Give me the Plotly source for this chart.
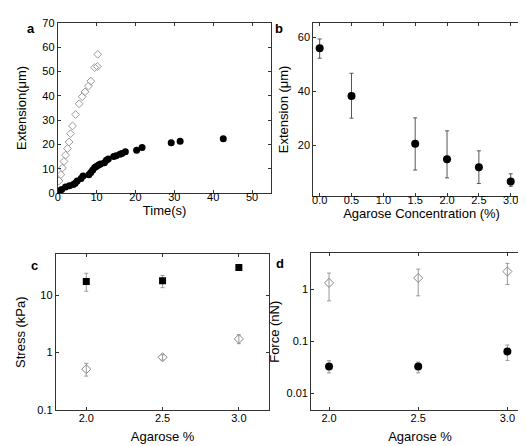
import plotly.graph_objects as go

# panel a: extension vs time
t_open = [0.3, 0.8, 1.2, 1.6, 2.0, 2.5, 2.9, 3.3, 3.8, 4.6, 5.5, 6.3, 7.0, 7.9, 8.5, 9.5, 10.2, 10.3]
ext_open = [5, 7.6, 10.3, 13, 15.6, 18.3, 21, 24.4, 27.6, 32.3, 36.7, 39.6, 41.6, 44, 46, 51.6, 52, 57]
t_fill = [0.5, 1.0, 2.0, 3.0, 4.0, 4.5, 5.0, 6.0, 6.5, 8.0, 8.5, 9.0, 9.5, 10.0, 10.5, 11.0,
          12.0, 12.5, 13.0, 14.4, 15.0, 16.0, 16.5, 17.4, 20.3, 21.7, 29.2, 31.5, 42.6]
ext_fill = [1.0, 1.5, 2.5, 3.0, 3.5, 4.0, 5.0, 6.0, 7.0, 7.5, 8.5, 9.5, 10.5, 11.0, 11.5, 12.0,
            12.5, 13.5, 14.0, 15.0, 15.3, 16.0, 16.3, 17.0, 17.6, 18.7, 20.7, 21.3, 22.3]

# panel b: extension vs agarose concentration
conc = [0.0, 0.5, 1.5, 2.0, 2.5, 3.0]
ext_mean = [56.0, 38.3, 20.6, 14.9, 11.9, 6.7]
ext_hi = [59.4, 46.7, 30.2, 25.4, 18.0, 9.5]
ext_lo = [52.3, 30.1, 10.9, 8.0, 5.9, 4.9]

# panels c, d
agarose = [2.0, 2.5, 3.0]
stress_fill = [17.3, 17.8, 30.3]
stress_fill_hi = [24, 22, 33]
stress_fill_lo = [11.7, 13.5, 28]
stress_open = [0.515, 0.83, 1.73]
stress_open_hi = [0.65, 0.92, 2.05]
stress_open_lo = [0.39, 0.74, 1.43]
force_open = [1.33, 1.65, 2.2]
force_open_hi = [2.05, 2.44, 3.15]
force_open_lo = [0.6, 0.75, 1.24]
force_fill = [0.033, 0.033, 0.064]
force_fill_hi = [0.0425, 0.040, 0.085]
force_fill_lo = [0.0248, 0.0248, 0.043]

font = "Liberation Sans, Arial, sans-serif"
fig = go.Figure()


def err(mean, hi, lo, color):
    return dict(type="data", symmetric=False,
                array=[h - m for h, m in zip(hi, mean)],
                arrayminus=[m - l for m, l in zip(mean, lo)],
                color=color, thickness=1, width=2)


fig.add_trace(go.Scatter(x=t_open, y=ext_open, mode="markers", xaxis="x", yaxis="y",
                         marker=dict(symbol="diamond-open", size=6, color="#999",
                                     line=dict(width=1))))
fig.add_trace(go.Scatter(x=t_fill, y=ext_fill, mode="markers", xaxis="x", yaxis="y",
                         marker=dict(symbol="circle", size=7, color="black")))

fig.add_trace(go.Scatter(x=conc, y=ext_mean, mode="markers", xaxis="x2", yaxis="y2",
                         error_y=err(ext_mean, ext_hi, ext_lo, "#555"),
                         marker=dict(symbol="circle", size=8, color="black")))

fig.add_trace(go.Scatter(x=agarose, y=stress_fill, mode="markers", xaxis="x3", yaxis="y3",
                         error_y=err(stress_fill, stress_fill_hi, stress_fill_lo, "#999"),
                         marker=dict(symbol="square", size=7, color="black")))
fig.add_trace(go.Scatter(x=agarose, y=stress_open, mode="markers", xaxis="x3", yaxis="y3",
                         error_y=err(stress_open, stress_open_hi, stress_open_lo, "#999"),
                         marker=dict(symbol="diamond-open", size=7, color="#888",
                                     line=dict(width=1))))

fig.add_trace(go.Scatter(x=agarose, y=force_open, mode="markers", xaxis="x4", yaxis="y4",
                         error_y=err(force_open, force_open_hi, force_open_lo, "#999"),
                         marker=dict(symbol="diamond-open", size=7, color="#888",
                                     line=dict(width=1))))
fig.add_trace(go.Scatter(x=agarose, y=force_fill, mode="markers", xaxis="x4", yaxis="y4",
                         error_y=err(force_fill, force_fill_hi, force_fill_lo, "#999"),
                         marker=dict(symbol="circle", size=8, color="black")))

ax = dict(showline=True, linecolor="#333", linewidth=1, mirror="allticks", ticks="inside",
          ticklen=3, tickcolor="#333", showgrid=False, zeroline=False,
          tickfont=dict(family=font, size=11, color="black"),
          title_font=dict(family=font, size=13, color="black"))
xa = dict(ax, ticklabelstandoff=-6)
xb = dict(ax, ticklabelstandoff=-2)

fig.update_layout(
    width=526, height=446, showlegend=False,
    margin=dict(l=0, r=0, t=0, b=0),
    plot_bgcolor="white", paper_bgcolor="white",
    font=dict(family=font, color="black"),
    xaxis=dict(xa, domain=[0.0894, 0.498], anchor="y", range=[0, 55], dtick=10,
               title=dict(text="Time(s)", standoff=2)),
    yaxis=dict(ax, domain=[0.5874, 0.9798], anchor="x", range=[0, 70], dtick=10,
               title=dict(text="Extension(μm)", standoff=12)),
    xaxis2=dict(xa, domain=[0.578, 0.992], anchor="y2", range=[-0.1, 3.3], dtick=0.5,
                tickformat=".1f", title=dict(text="Agarose Concentration (%)", standoff=2)),
    yaxis2=dict(ax, domain=[0.5807, 0.9798], anchor="x2", range=[1.3, 65.4],
                tickvals=[20, 40, 60], title=dict(text="Extension (μm)", standoff=6)),
    xaxis3=dict(xb, domain=[0.0856, 0.494], anchor="y3", range=[1.8, 3.2],
                tickvals=agarose, tickformat=".1f",
                title=dict(text="Agarose %", standoff=8)),
    yaxis3=dict(ax, domain=[0.0874, 0.4462], anchor="x3", type="log", range=[-1, 1.71],
                tickvals=[0.1, 1, 10], ticktext=["0.1", "1", "10"],
                title=dict(text="Stress (kPa)", standoff=8)),
    xaxis4=dict(xb, domain=[0.574, 0.990], anchor="y4", range=[1.9, 3.12],
                tickvals=agarose, tickformat=".1f",
                title=dict(text="Agarose %", standoff=8)),
    yaxis4=dict(ax, domain=[0.0874, 0.4484], anchor="x4", type="log", range=[-2.32, 0.69],
                tickvals=[0.01, 0.1, 1], ticktext=["0.01", "0.1", "1"],
                title=dict(text="Force (nN)", standoff=4)),
)

for txt, x, y in [("a", 0.038, 0.967), ("b", 0.513, 0.967), ("c", 0.0456, 0.4215), ("d", 0.515, 0.424)]:
    fig.add_annotation(text="<b>" + txt + "</b>", x=x, y=y, xref="paper", yref="paper",
                       showarrow=False, font=dict(family=font, size=13, color="black"),
                       xanchor="center", yanchor="middle")

fig.write_html("out.html")
